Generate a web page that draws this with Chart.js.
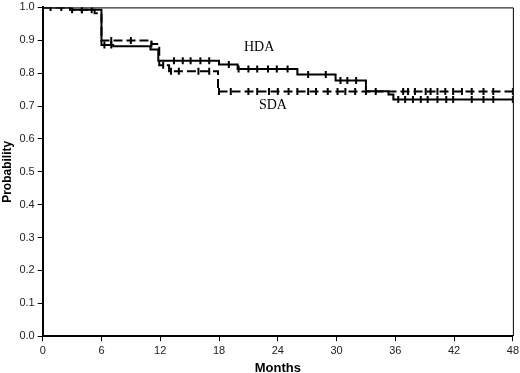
<!DOCTYPE html>
<html>
  <head>
    <meta charset="utf-8">
    <title>Survival HDA vs SDA</title>
    <script src="https://cdn.jsdelivr.net/npm/chart.js@4.4.1/dist/chart.umd.min.js"></script>
    <style>
      body { margin: 0; background: #fff; overflow: hidden; }
      #wrap { width: 522px; height: 373px; }
    </style>
  </head>
  <body>
    <div id="wrap"><canvas id="myChart"></canvas></div>

    <script>
      // step curves: time of each drop and the survival value after it
      const hdaTimes = [0, 2.8, 6, 7.2, 11, 11.8, 18, 19.9, 26, 29.9, 33, 35.3, 35.8, 48];
      const hdaSurv  = [1.0, 0.993, 0.886, 0.882, 0.872, 0.838, 0.826, 0.813, 0.796, 0.778, 0.745, 0.735, 0.72, 0.72];

      const sdaTimes = [0, 2.8, 5.3, 6, 11.1, 11.9, 12.9, 17.9, 48];
      const sdaSurv  = [1.0, 0.993, 0.982, 0.899, 0.889, 0.824, 0.806, 0.744, 0.744];

      // censored observations (months)
      const hdaCensor = [0.8, 1.9, 4.0, 6.3, 7.0, 13.4, 14.3, 15.1, 16.1, 17.0, 19.0, 20.0, 21.0, 21.9, 23.0, 23.9, 25.0,
                         27.1, 28.9, 30.4, 31.1, 32.0, 36.3, 37.0, 37.8, 38.6, 39.3, 40.3, 41.2, 41.9, 43.8, 45.0, 46.0, 48];
      const sdaCensor = [3.0, 4.0, 5.0, 7.0, 9.0, 11.1, 12.3, 13.1, 13.9, 15.9, 17.0, 18.0, 19.2, 21.0, 21.9, 23.1, 24.0,
                         25.1, 26.0, 27.1, 27.9, 29.1, 30.1, 30.9, 31.9, 33.0, 34.0, 36.8, 37.3, 38.0, 39.1, 39.6, 40.3,
                         41.1, 41.9, 42.8, 43.8, 45.0, 46.0, 48];

      const xTicks = [0, 6, 12, 18, 24, 30, 36, 42, 48];

      function stepValue(times, surv, t) {
        var v = surv[0];
        for (var i = 0; i < times.length; i++) {
          if (times[i] <= t) v = surv[i];
        }
        return v;
      }
      function curve(times, surv) {
        return times.map(function(t, i) { return {x: t, y: surv[i]}; });
      }
      function marks(times, surv, cens) {
        return cens.map(function(t) { return {x: t, y: stepValue(times, surv, t)}; });
      }

      // frame on top/right plus the group labels
      const extras = {
        id: 'extras',
        afterDatasetsDraw(chart) {
          const c = chart.ctx, a = chart.chartArea;
          const xs = chart.scales.x, ys = chart.scales.y;
          c.save();
          c.strokeStyle = '#000';
          c.lineWidth = 1;
          c.beginPath();
          c.moveTo(a.left, a.top + 0.5);
          c.lineTo(a.right + 0.5, a.top + 0.5);
          c.lineTo(a.right + 0.5, a.bottom);
          c.stroke();
          c.fillStyle = '#000';
          c.font = '14px "Liberation Serif", "Times New Roman", serif';
          c.textAlign = 'center';
          c.textBaseline = 'middle';
          c.fillText('HDA', xs.getPixelForValue(22.1), ys.getPixelForValue(0.879));
          c.fillText('SDA', xs.getPixelForValue(23.5), ys.getPixelForValue(0.703));
          c.restore();
        }
      };

      var ctx = document.getElementById('myChart').getContext('2d');
      var chart = new Chart(ctx, {
        type: 'scatter',
        data: {
          datasets: [{
              label: 'HDA',
              data: curve(hdaTimes, hdaSurv),
              showLine: true,
              stepped: true,
              borderColor: '#000',
              borderWidth: 2,
              pointRadius: 0
            }, {
              label: 'SDA',
              data: curve(sdaTimes, sdaSurv),
              showLine: true,
              stepped: true,
              borderColor: '#000',
              borderWidth: 2,
              borderDash: [9, 4],
              pointRadius: 0
            }, {
              label: 'HDA censored',
              data: marks(hdaTimes, hdaSurv, hdaCensor),
              pointStyle: 'line',
              rotation: 90,
              pointRadius: 3.5,
              borderColor: '#000',
              borderWidth: 2
            }, {
              label: 'SDA censored',
              data: marks(sdaTimes, sdaSurv, sdaCensor),
              pointStyle: 'line',
              rotation: 90,
              pointRadius: 3.5,
              borderColor: '#000',
              borderWidth: 2
            }]
        },
        options: {
          responsive: true,
          maintainAspectRatio: false,
          animation: false,
          layout: { padding: { left: 0, right: 0, top: 0, bottom: -3 } },
          plugins: { legend: { display: false }, tooltip: { enabled: false } },
          scales: {
            x: {
              type: 'linear',
              min: 0,
              max: 48,
              afterBuildTicks: function(axis) { axis.ticks = xTicks.map(function(v) { return {value: v}; }); },
              grid: { drawOnChartArea: false, tickLength: 5, color: '#000', lineWidth: 1 },
              border: { color: '#000', width: 2 },
              ticks: { color: '#222', font: { family: '"Liberation Sans", Arial, sans-serif', size: 11 }, padding: 3, maxRotation: 0 },
              title: { display: true, text: 'Months', color: '#000', padding: { top: 0, bottom: 0 },
                       font: { family: '"Liberation Sans", Arial, sans-serif', size: 13, weight: 'bold' } }
            },
            y: {
              min: 0,
              max: 1,
              ticks: { stepSize: 0.1, color: '#222', padding: 3,
                       font: { family: '"Liberation Sans", Arial, sans-serif', size: 11, lineHeight: 0.8 },
                       callback: function(v) { return v.toFixed(1); } },
              grid: { drawOnChartArea: false, tickLength: 5, color: '#000', lineWidth: 1 },
              border: { color: '#000', width: 2 },
              title: { display: true, text: 'Probability', color: '#000', padding: { top: 0, bottom: 2 },
                       font: { family: '"Liberation Sans", Arial, sans-serif', size: 12, weight: 'bold' } }
            }
          }
        },
        plugins: [extras]
      });
    </script>
  </body>
</html>
